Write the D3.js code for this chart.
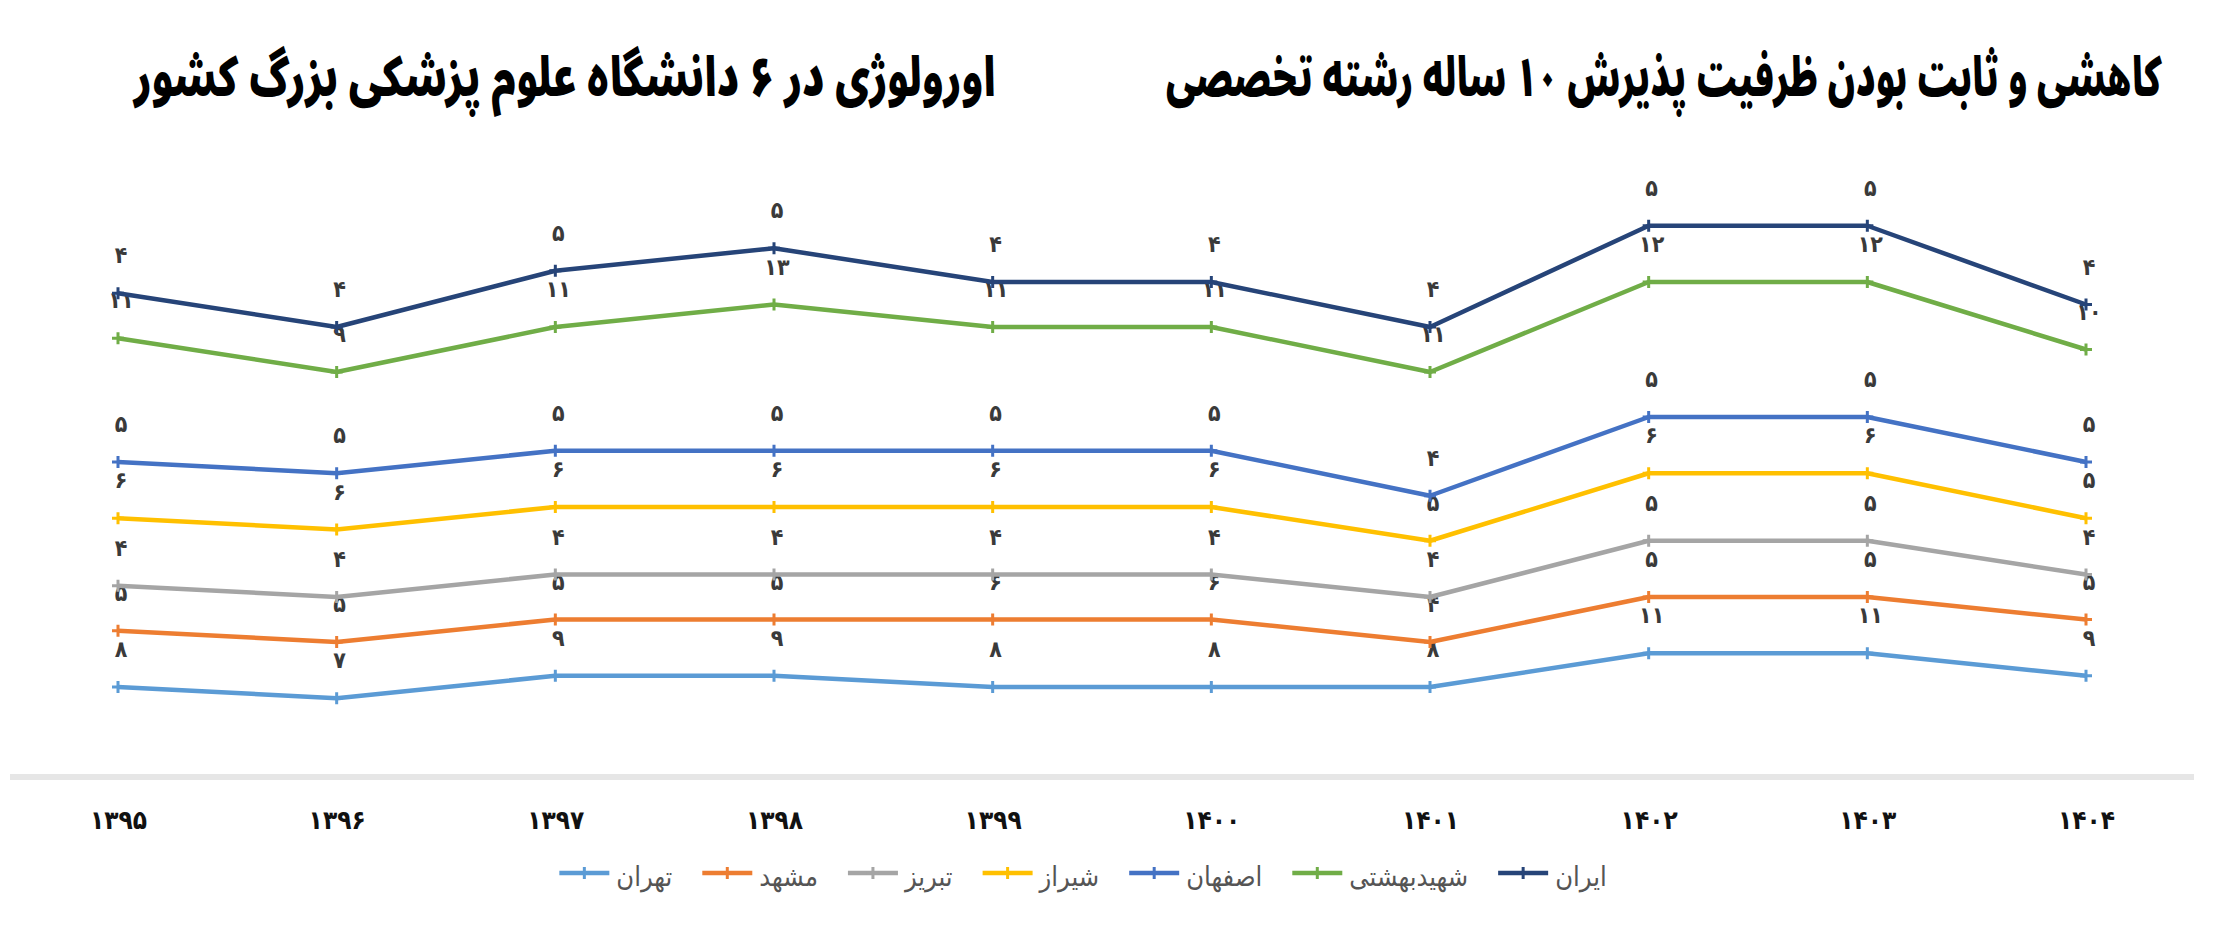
<!DOCTYPE html>
<html>
<head>
<meta charset="utf-8">
<script src="https://cdnjs.cloudflare.com/ajax/libs/d3/7.8.5/d3.min.js"></script>
<style>
  body { margin: 0; background: #fff; }
  svg { display: block; }
</style>
</head>
<body>
<div class="lineCh"></div>
<script>
// tick labels (years, Persian calendar)
const years = ['۱۳۹۵','۱۳۹۶','۱۳۹۷','۱۳۹۸','۱۳۹۹','۱۴۰۰','۱۴۰۱','۱۴۰۲','۱۴۰۳','۱۴۰۴']

// series, bottom to top (stacked)
const seriesNames = ['تهران','مشهد','تبریز','شیراز','اصفهان','شهیدبهشتی','ایران']
const tehran   = [8, 7, 9, 9, 8, 8, 8, 11, 11, 9]
const mashhad  = [5, 5, 5, 5, 6, 6, 4, 5, 5, 5]
const tabriz   = [4, 4, 4, 4, 4, 4, 4, 5, 5, 4]
const shiraz   = [6, 6, 6, 6, 6, 6, 5, 6, 6, 5]
const isfahan  = [5, 5, 5, 5, 5, 5, 4, 5, 5, 5]
const beheshti = [11, 9, 11, 13, 11, 11, 11, 12, 12, 10]
const iran     = [4, 4, 5, 5, 4, 4, 4, 5, 5, 4]

const titleRight = 'کاهشی و ثابت بودن ظرفیت پذیرش ۱۰ ساله رشته تخصصی'
const titleLeft = 'اورولوژی در ۶ دانشگاه علوم پزشکی بزرگ کشور'

const colors = ['#5B9BD5','#ED7D31','#A5A5A5','#FFC000','#4472C4','#70AD47','#264478']

const W = 2218, H = 952
const fa = n => String(n).replace(/\d/g, d => '۰۱۲۳۴۵۶۷۸۹'[d])

// table for d3.stack
const allSeries = [tehran, mashhad, tabriz, shiraz, isfahan, beheshti, iran]
const table = years.map((y, i) => {
  const row = { year: y }
  seriesNames.forEach((s, k) => row[s] = allSeries[k][i])
  return row
})
const stacked = d3.stack().keys(seriesNames)(table)

const svg = d3.select('.lineCh').append('svg')
  .attr('width', W)
  .attr('height', H)

svg.append('rect').attr('width', W).attr('height', H).attr('fill', '#fff')

// title (one sentence, split in two blocks); squeeze each block to its width
const drawTitle = (txt, cx, width) => {
  const g = svg.append('g')
  const t = g.append('text')
    .attr('x', 0).attr('y', 0)
    .attr('text-anchor', 'middle')
    .attr('direction', 'rtl')
    .style('font-family', '"Noto Sans Arabic", "DejaVu Sans", sans-serif')
    .style('font-weight', 900)
    .style('font-size', '54px')
    .attr('fill', '#000')
    .text(txt)
  const w = t.node().getComputedTextLength()
  g.attr('transform', 'translate(' + cx + ',96) scale(' + (width / w) + ',1)')
}
drawTitle(titleRight, 1664, 996)
drawTitle(titleLeft, 565, 862)

// scales
const x = d3.scalePoint().domain(years).range([118, 2086])
const y = d3.scaleLinear().domain([0, 50]).range([777, 777 - 50 * 11.25])

// axis base line
svg.append('line')
  .attr('x1', 10).attr('x2', 2194)
  .attr('y1', y(0)).attr('y2', y(0))
  .attr('stroke', '#e6e6e6')
  .attr('stroke-width', 6)

const xAxis = svg.append('g')
  .attr('transform', 'translate(0,829)')
  .call(d3.axisBottom(x).tickSize(0).tickPadding(0))
xAxis.select('.domain').remove()
xAxis.selectAll('text')
  .attr('y', 0).attr('dy', 0)
  .style('font-family', '"DejaVu Sans Condensed", "DejaVu Sans", sans-serif')
  .style('font-weight', 'bold')
  .style('font-size', '26px')
  .attr('fill', '#111')

// lines
const line = d3.line()
  .x((d, i) => x(years[i]))
  .y(d => y(d[1]))

const plus = (cx, cy, r) => `M${cx - r},${cy}H${cx + r}M${cx},${cy - r}V${cy + r}`

const layers = svg.selectAll('.layer')
  .data(stacked)
  .enter().append('g')
  .attr('class', 'layer')

layers.append('path')
  .attr('d', d => line(d))
  .attr('fill', 'none')
  .attr('stroke', (d, i) => colors[i])
  .attr('stroke-width', 4.5)
  .attr('stroke-linejoin', 'round')

layers.each(function (s, k) {
  const g = d3.select(this)
  g.selectAll('.mk')
    .data(s)
    .enter().append('path')
    .attr('class', 'mk')
    .attr('d', (d, i) => plus(x(years[i]), y(d[1]), 6))
    .attr('stroke', colors[k])
    .attr('stroke-width', 3)

  g.selectAll('.lbl')
    .data(s)
    .enter().append('text')
    .attr('class', 'lbl')
    .attr('x', (d, i) => x(years[i]) + 3)
    .attr('y', d => y(d[1]) - 38)
    .attr('text-anchor', 'middle')
    .attr('dominant-baseline', 'central')
    .style('font-family', '"DejaVu Sans Condensed", "DejaVu Sans", sans-serif')
    .style('font-weight', 'bold')
    .style('font-size', '23px')
    .attr('fill', '#3a3a3a')
    .text(d => fa(d[1] - d[0]))
})

// legend
const legend = svg.append('g').attr('class', 'legend')
const items = legend.selectAll('.item')
  .data(seriesNames)
  .enter().append('g')
  .attr('class', 'item')

items.append('line')
  .attr('x1', 0).attr('x2', 50)
  .attr('y1', 0).attr('y2', 0)
  .attr('stroke', (d, i) => colors[i])
  .attr('stroke-width', 4.5)
items.append('path')
  .attr('d', plus(25, 0, 6))
  .attr('stroke', (d, i) => colors[i])
  .attr('stroke-width', 3)
items.append('text')
  .attr('x', 57)
  .attr('y', 13)
  .attr('direction', 'rtl')
  .attr('text-anchor', 'end')
  .style('font-family', '"DejaVu Sans Condensed", "DejaVu Sans", sans-serif')
  .style('font-size', '27px')
  .attr('fill', '#555')
  .text(d => d)

// place legend items one after another, centred under the chart
let cx = 0
const widths = []
items.each(function () {
  widths.push(57 + d3.select(this).select('text').node().getComputedTextLength())
})
const gap = 30
const total = d3.sum(widths) + gap * (widths.length - 1)
const startX = 1083 - total / 2
items.attr('transform', (d, i) => {
  const t = 'translate(' + (startX + cx) + ',873)'
  cx += widths[i] + gap
  return t
})
</script>
</body>
</html>
